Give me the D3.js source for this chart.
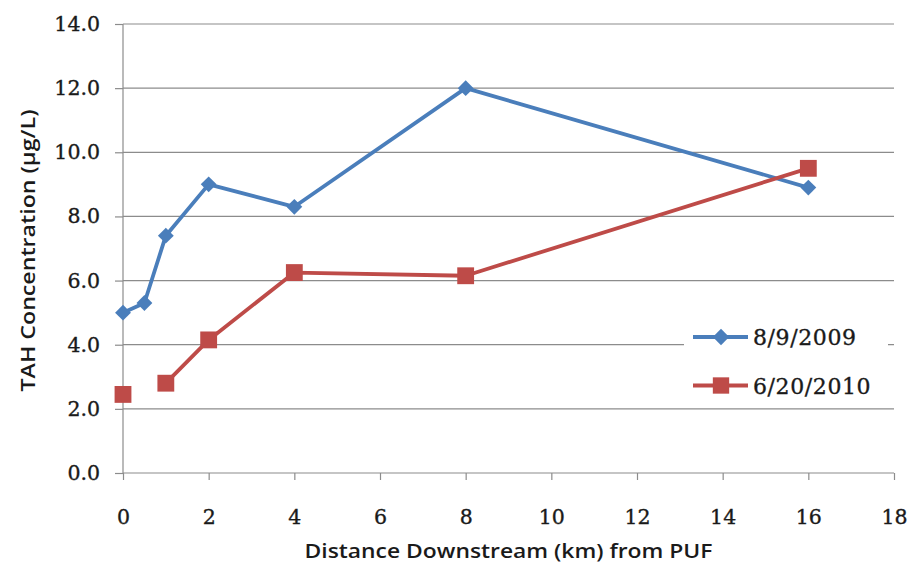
<!DOCTYPE html>
<html>
<head>
<meta charset="utf-8">
<script src="https://cdn.jsdelivr.net/npm/d3@7"></script>
<style>
  html, body { margin: 0; padding: 0; background: #fff; }
  svg { display: block; }
  .tick text { font-family: "DejaVu Serif", serif; font-size: 20.5px; fill: #1a1a1a; stroke: #1a1a1a; stroke-width: 0.35px; }
  .axis-title { font-family: "Open Sans", sans-serif; font-weight: 600; font-size: 20.5px; fill: #1a1a1a; }
  .legend-text { font-family: "DejaVu Serif", serif; font-size: 22px; letter-spacing: 0.6px; fill: #1a1a1a; stroke: #1a1a1a; stroke-width: 0.35px; }
</style>
</head>
<body>
<svg id="chart" width="910" height="563"></svg>
<script>
// Distance downstream (km) and TAH concentration (µg/L) per sampling date
const distances = [0, 0.5, 1, 2, 4, 8, 16];
const tah2009 = [5.0, 5.3, 7.4, 9.0, 8.3, 12.0, 8.9];
const tah2010 = [2.45, null, 2.8, 4.15, 6.25, 6.15, 9.5];
const seriesNames = ["8/9/2009", "6/20/2010"];
const seriesColors = ["#4A7EBB", "#BE4B48"];
const xTicks = [0, 2, 4, 6, 8, 10, 12, 14, 16, 18];
const yTicks = [0, 2, 4, 6, 8, 10, 12, 14];
const xTitle = "Distance Downstream (km) from PUF";
const yTitle = "TAH Concentration (µg/L)";

const svg = d3.select("#chart");
const plot = { left: 123, right: 894, top: 24, bottom: 473 };

const x = d3.scaleLinear().domain([0, 18]).range([plot.left, plot.right]);
const y = d3.scaleLinear().domain([0, 14]).range([plot.bottom, plot.top]);

// horizontal gridlines
svg.append("g")
  .selectAll("line")
  .data(yTicks.filter(v => v > 0))
  .join("line")
  .attr("x1", plot.left).attr("x2", plot.right)
  .attr("y1", d => y(d)).attr("y2", d => y(d))
  .attr("stroke", "#8c8c8c").attr("stroke-width", 1.2);

// y axis
const yAxis = svg.append("g")
  .attr("transform", `translate(${plot.left},0)`)
  .call(d3.axisLeft(y).tickValues(yTicks).tickFormat(d3.format(".1f")).tickSize(8).tickPadding(15));
// x axis
const xAxis = svg.append("g")
  .attr("transform", `translate(0,${plot.bottom})`)
  .call(d3.axisBottom(x).tickValues(xTicks).tickFormat(d3.format("d")).tickSize(7).tickPadding(29));

[yAxis, xAxis].forEach(g => {
  g.select(".domain").attr("stroke", "#8c8c8c").attr("stroke-width", 1.2);
  g.selectAll(".tick line").attr("stroke", "#8c8c8c").attr("stroke-width", 1.2);
});
yAxis.select(".domain").attr("d", `M0,${plot.bottom}V${plot.top}`);
xAxis.select(".domain").attr("d", `M${plot.left},0H${plot.right}`);

// axis titles
svg.append("text").attr("class", "axis-title")
  .attr("x", (plot.left + plot.right) / 2).attr("y", 558)
  .attr("text-anchor", "middle")
  .attr("textLength", 408).attr("lengthAdjust", "spacingAndGlyphs")
  .text(xTitle);
svg.append("text").attr("class", "axis-title")
  .attr("transform", `translate(35,${(plot.top + plot.bottom) / 2 + 2}) rotate(-90)`)
  .attr("text-anchor", "middle")
  .attr("textLength", 282).attr("lengthAdjust", "spacingAndGlyphs")
  .text(yTitle);

// series
const series = [
  { name: seriesNames[0], values: tah2009, color: seriesColors[0], symbol: d3.symbolDiamond2, size: 160 },
  { name: seriesNames[1], values: tah2010, color: seriesColors[1], symbol: d3.symbolSquare2, size: 361 }
];

const line = d3.line()
  .defined(d => d[1] != null)
  .x(d => x(d[0])).y(d => y(d[1]));

series.forEach(s => {
  const pts = distances.map((d, i) => [d, s.values[i]]);
  svg.append("path")
    .datum(pts)
    .attr("d", line)
    .attr("fill", "none")
    .attr("stroke", s.color)
    .attr("stroke-width", 3.8)
    .attr("stroke-linejoin", "round");
  svg.append("g")
    .selectAll("path")
    .data(pts.filter(p => p[1] != null))
    .join("path")
    .attr("transform", p => `translate(${x(p[0])},${y(p[1])})`)
    .attr("d", d3.symbol().type(s.symbol).size(s.size))
    .attr("fill", s.color);
});

// legend
const legend = svg.append("g");
legend.append("rect")
  .attr("x", 684).attr("y", 312).attr("width", 204).attr("height", 92)
  .attr("fill", "#fff");
const legendRows = [337, 385.5];
series.forEach((s, i) => {
  const ly = legendRows[i];
  legend.append("line")
    .attr("x1", 693).attr("x2", 748).attr("y1", ly).attr("y2", ly)
    .attr("stroke", s.color).attr("stroke-width", 3.8);
  legend.append("path")
    .attr("transform", `translate(721,${ly})`)
    .attr("d", d3.symbol().type(s.symbol).size(i === 0 ? 170 : 340))
    .attr("fill", s.color);
  legend.append("text").attr("class", "legend-text")
    .attr("x", 753).attr("y", ly + 8).text(s.name);
});
</script>
</body>
</html>
